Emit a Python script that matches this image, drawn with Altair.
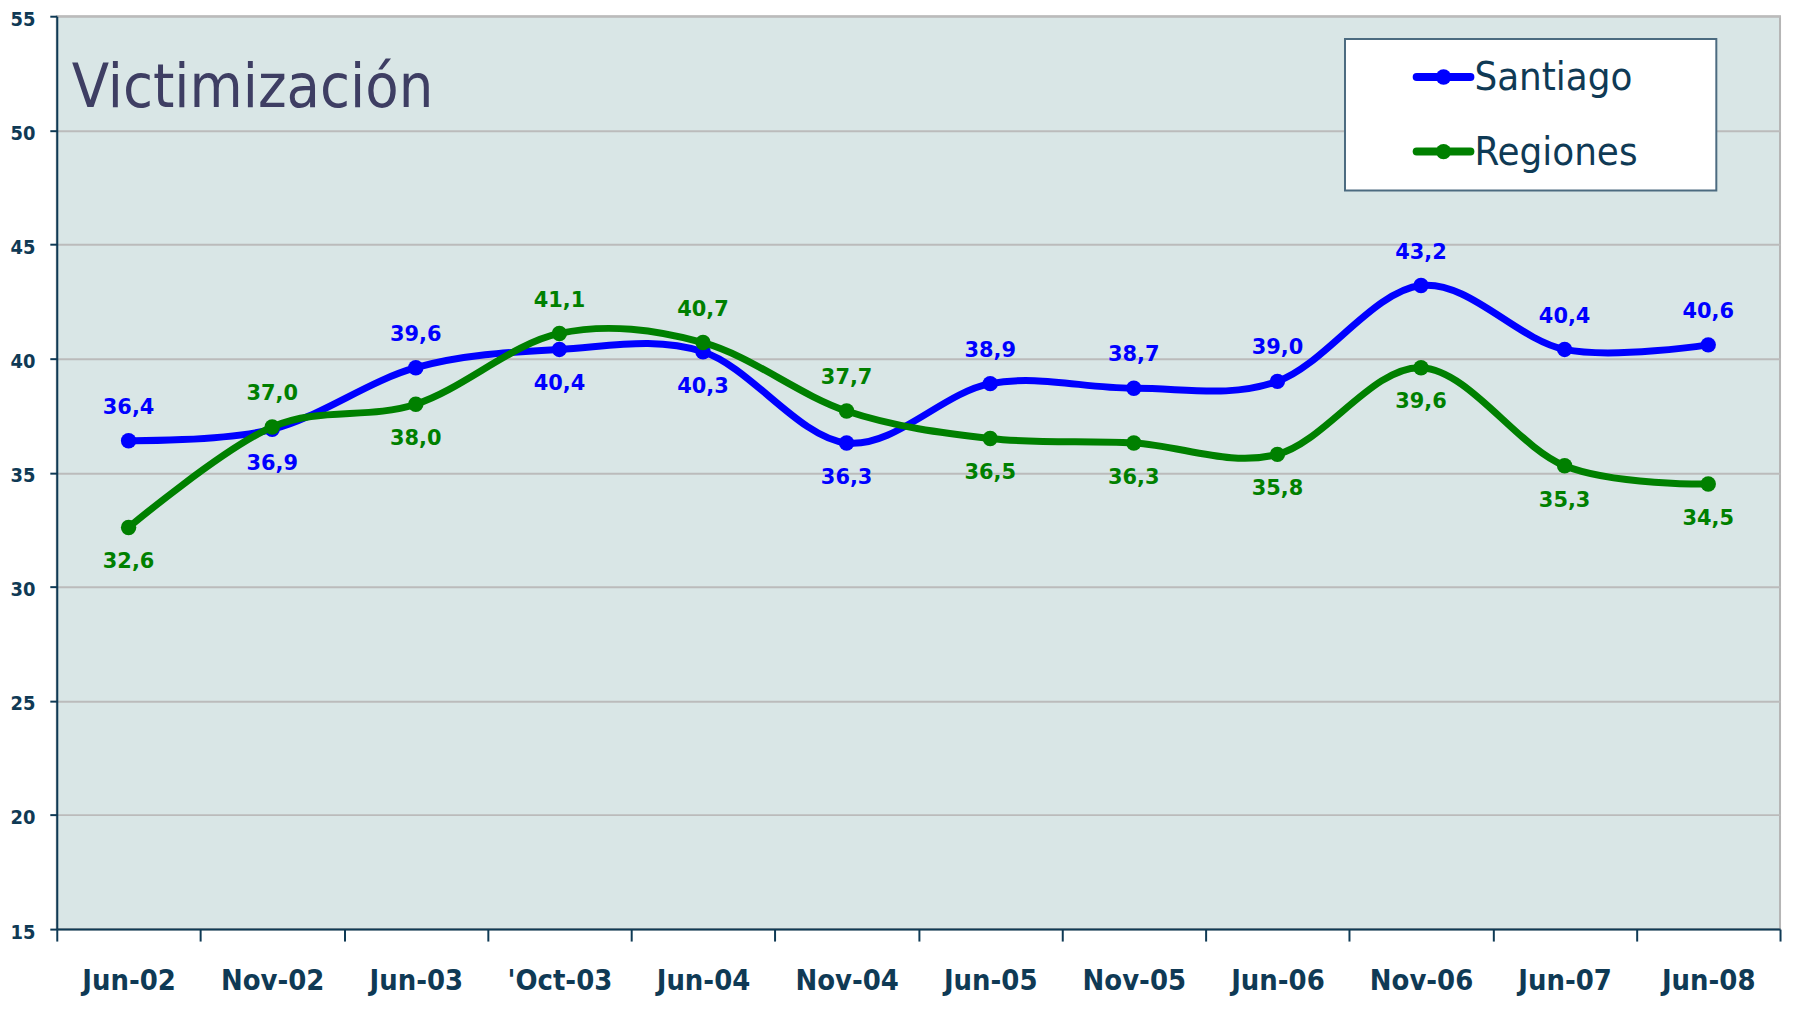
import altair as alt
import pandas as pd

categories = ["Jun-02", "Nov-02", "Jun-03", "'Oct-03", "Jun-04", "Nov-04",
              "Jun-05", "Nov-05", "Jun-06", "Nov-06", "Jun-07", "Jun-08"]
santiago = [36.4, 36.9, 39.6, 40.4, 40.3, 36.3, 38.9, 38.7, 39.0, 43.2, 40.4, 40.6]
regiones = [32.6, 37.0, 38.0, 41.1, 40.7, 37.7, 36.5, 36.3, 35.8, 39.6, 35.3, 34.5]
santiago_above = [True, False, True, False, False, False, True, True, True, True, True, True]
regiones_above = [False, True, False, True, True, True, False, False, False, False, False, False]
series_names = ["Santiago", "Regiones"]
series_colors = ["#0000FF", "#008000"]
y_ticks = [15, 20, 25, 30, 35, 40, 45, 50, 55]

rows = []
for name, vals, above in [("Santiago", santiago, santiago_above), ("Regiones", regiones, regiones_above)]:
    for c, v, a in zip(categories, vals, above):
        rows.append({"cat": c, "val": v, "serie": name, "above": a,
                     "lab": f"{v:.1f}".replace(".", ",")})
df = pd.DataFrame(rows)

NAVY = "#0F3A55"
COND = "DejaVu Sans Condensed, DejaVu Sans"

x_enc = alt.X("cat:N", sort=categories,
              scale=alt.Scale(type="band", domain=categories, paddingInner=0, paddingOuter=0),
              bandPosition=0.5,
              axis=alt.Axis(title=None, tickBand="extent", domainColor=NAVY, domainWidth=2,
                            tickColor=NAVY, tickWidth=2, tickSize=12, grid=False,
                            labelFont=COND, labelFontSize=29, labelFontWeight="bold",
                            labelColor=NAVY, labelPadding=26, labelAngle=0))
y_enc = alt.Y("val:Q", scale=alt.Scale(domain=[15, 55], nice=False, zero=False),
              axis=alt.Axis(title=None, values=y_ticks, grid=True, gridColor="#BBBBBB",
                            gridWidth=2, domainColor=NAVY, domainWidth=2, tickColor=NAVY,
                            tickWidth=2, tickSize=7, labelFont=COND, labelFontSize=20,
                            labelFontWeight="bold", labelColor=NAVY, labelPadding=15,
                            labelOffset=3))
cscale = alt.Scale(domain=series_names, range=series_colors)
color_enc = alt.Color("serie:N", scale=cscale, legend=None)

base = alt.Chart(df)

# legend box and entries (decoration inside the plot, as in the original)
box = alt.Chart(pd.DataFrame({"k": [0]})).mark_rect(
    fill="white", stroke="#4C6B80", strokeWidth=2
).encode(x=alt.value(1294), x2=alt.value(1667), y=alt.value(23), y2=alt.value(175))

title = alt.Chart(pd.DataFrame({"t": ["Victimización"]})).mark_text(
    align="left", baseline="alphabetic", font=COND, fontSize=61, color="#3E3E63"
).encode(x=alt.value(15), y=alt.value(91), text="t:N")

layers = [box, title]

legend_rows_y = [61, 136]
for i, name in enumerate(series_names):
    ldf = pd.DataFrame({"serie": [name]})
    lc = alt.Chart(ldf)
    ly = legend_rows_y[i]
    layers.append(lc.mark_rule(strokeWidth=8, strokeCap="round").encode(
        x=alt.value(1366), x2=alt.value(1420), y=alt.value(ly), color=color_enc))
    layers.append(lc.mark_point(filled=True, size=240, opacity=1).encode(
        x=alt.value(1393), y=alt.value(ly), color=color_enc))
    layers.append(lc.mark_text(align="left", baseline="middle", font=COND, fontSize=40,
                               color=NAVY).encode(
        x=alt.value(1424), y=alt.value(ly + 1), text="serie:N"))

for name in series_names:
    sub = base.transform_filter(alt.datum.serie == name)
    line = sub.mark_line(interpolate="cardinal", strokeWidth=7).encode(
        x=x_enc, y=y_enc, color=color_enc)
    pts = sub.mark_point(filled=True, size=240, opacity=1).encode(
        x=x_enc, y=y_enc, color=color_enc)
    above = sub.transform_filter(alt.datum.above == True).mark_text(
        dy=-33, fontSize=21, fontWeight="bold", font="DejaVu Sans").encode(
        x=x_enc, y=y_enc, text="lab:N", color=color_enc)
    below = sub.transform_filter(alt.datum.above == False).mark_text(
        dy=35, fontSize=21, fontWeight="bold", font="DejaVu Sans").encode(
        x=x_enc, y=y_enc, text="lab:N", color=color_enc)
    layers += [line, pts, above, below]

chart = alt.layer(*layers).properties(
    width=1731, height=917,
    autosize=alt.AutoSizeParams(type="none"),
    padding={"left": 49, "top": 6, "right": 8, "bottom": 78},
).configure_view(
    fill="#D9E6E6", stroke="#B5B5B5", strokeWidth=2
)

chart.save("out.html", embed_options={"renderer": "svg", "actions": False})
